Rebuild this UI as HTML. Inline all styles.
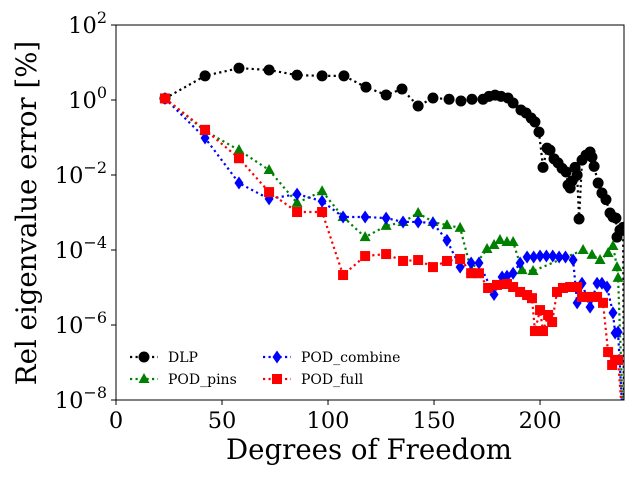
<!DOCTYPE html>
<html><head><meta charset="utf-8"><style>
html,body{margin:0;padding:0;background:#fff}
svg{display:block;font-family:"DejaVu Serif","Liberation Serif",serif}
</style></head><body>
<svg id="chart" width="640" height="480" viewBox="0 0 640 480">
<defs><clipPath id="clip"><rect x="116" y="25" width="508" height="375"/></clipPath></defs>
<rect x="0" y="0" width="640" height="480" fill="#fff"/>
<g id="series" clip-path="url(#clip)"></g>
<rect x="116" y="25" width="508" height="375" fill="none" stroke="#000" stroke-width="1"/>
<g id="axes"></g>
<text x="369" y="459" font-size="27.6" text-anchor="middle">Degrees of Freedom</text>
<text transform="translate(36,213) rotate(-90)" font-size="27.6" text-anchor="middle">Rel eigenvalue error [%]</text>
<g id="legend"></g>
</svg>
<script>
const xTicks=[0,50,100,150,200];
const yTickExps=[2,0,-2,-4,-6,-8];
const seriesNames=["DLP","POD_pins","POD_combine","POD_full"];
const dlpX=[23.1,42,58,72.2,85.4,97.2,107.5,117.9,127.4,134.9,142.5,149.5,157.1,162.7,167.9,173.1,175.9,178.8,181.6,184.9,187.3,191,193.4,195.8,197.6,199.5,201.4,203.3,204.7,206.6,208.5,210.4,212.3,213.2,214.2,215.1,216.5,217.5,218.4,219.8,221.7,223.6,224.5,225.5,227.4,229.2,231.1,233,234.4,235.8,236.3,237.7,239.2,239.6];
const dlpY=[1.1,4.4,7.1,6.3,4.6,4.4,4.4,2.2,1.36,1.96,0.69,1.13,1.05,0.94,1.05,1.05,1.25,1.35,1.25,1.13,0.83,0.54,0.45,0.33,0.26,0.14,0.016,0.052,0.046,0.027,0.021,0.015,0.012,0.0054,0.0045,0.0069,0.016,0.01,0.00067,0.025,0.034,0.041,0.03,0.017,0.0061,0.0033,0.0022,0.00097,0.00076,0.00071,0.00022,0.00034,0.0004,1e-9];
const pinsX=[23.1,42,58,72.2,85.4,97.2,107.1,117.5,127.4,135.4,142.5,149.5,156.1,162.3,167.5,175,178.3,181.1,184.4,187.3,191.5,196.7,220.3,224.5,228.3,232.1,234.4,236.3,236.8,239.5];
const pinsY=[1.1,0.15,0.046,0.0136,0.0018,0.0037,0.00076,0.00022,0.00044,0.00056,0.00097,0.00056,0.00046,0.00039,2.9e-5,0.000106,0.000136,0.000185,0.000163,0.000163,2.9e-5,2.75e-5,0.0001,7.4e-5,5.4e-5,8.3e-5,0.000128,3.5e-5,1.8e-5,1e-9];
const combX=[23.1,42,58,72.2,85.4,97.2,107.1,117.5,127.4,135.4,142.5,149.5,156.1,162.3,167.5,171.2,178.3,182.1,184.4,187.3,190.6,193.9,197,200,203,206,209,212,215.6,217.5,219.8,223.6,226.9,229.2,231.6,234.4,235.4,236.8,239.5];
const combY=[1.1,0.097,0.0061,0.0023,0.0031,0.002,0.00076,0.00076,0.00071,0.00056,0.00056,0.00052,0.00018,3.5e-5,4.5e-5,4.5e-5,6.5e-6,1.9e-5,2.0e-5,2.4e-5,4.5e-5,6.5e-5,6.5e-5,6.9e-5,6.9e-5,6.9e-5,6.5e-5,6.5e-5,5.4e-5,3.9e-6,1.3e-5,3.0e-6,1.3e-5,1.3e-5,1.03e-5,2.1e-6,6.1e-7,6.5e-7,1e-9];
const fullX=[23.1,42,58,72.2,85.4,97.2,107.1,117.5,127.4,135.4,142.5,149.5,156.1,162.3,167.5,171.2,175.5,179.7,184.4,187.3,190.6,193.9,196.2,197.6,200,201.4,203.8,205.7,208,210.8,214.2,217.5,219.8,222.6,226.9,229.7,232.1,234,235.4,236.8,239.5];
const fullY=[1.1,0.16,0.028,0.0035,0.00103,0.00103,2.15e-5,6.9e-5,7.8e-5,5.1e-5,5.4e-5,3.5e-5,5.1e-5,5.75e-5,2.4e-5,2.4e-5,9.7e-6,1.17e-5,1.24e-5,1.03e-5,7.6e-6,6.3e-6,5.2e-6,6.9e-7,2.5e-6,6.9e-7,1.85e-6,1.2e-6,7.6e-6,9.7e-6,1.03e-5,1.03e-5,5.6e-6,5.6e-6,5.6e-6,3.9e-6,1.9e-7,8.6e-8,1.17e-7,1.17e-7,1e-9];

const NS="http://www.w3.org/2000/svg";
const X0=116,X1=624,Y0=25,Y1=400,XMAX=239.6;
function sx(v){return X0+(v/XMAX)*(X1-X0);}
function sy(v){const e=Math.log10(v);return Y0+(2-e)/10*(Y1-Y0);}
function mk(tag,attrs,parent){const el=document.createElementNS(NS,tag);for(const k in attrs)el.setAttribute(k,attrs[k]);parent.appendChild(el);return el;}
const axes=document.getElementById('axes');
xTicks.forEach(t=>{
  const x=sx(t);
  const tk=mk('line',{x1:x,x2:x,y1:400,y2:405,stroke:'#000','stroke-width':1},axes);
  
  
  const tx=mk('text',{x:x,y:428,'font-size':22.5,'text-anchor':'middle'},axes);
  tx.textContent=t;
  
  
});
yTickExps.forEach(e=>{
  const y=sy(Math.pow(10,e));
  const tk=mk('line',{x1:111,x2:116,y1:y,y2:y,stroke:'#000','stroke-width':1},axes);
  
  
  const tx=mk('text',{x:107,y:y+8,'font-size':22.5,'text-anchor':'end'},axes);
  
  
  const a=document.createElementNS(NS,'tspan');a.textContent='10';tx.appendChild(a);
  const b=document.createElementNS(NS,'tspan');b.textContent=String(e).replace('-','\u2212');b.setAttribute('dy','-10');b.setAttribute('font-size','16');tx.appendChild(b);
});
const colors=['#000','#008000','#0000ff','#ff0000'];
const shapes=['circle','triangle','diamond','square'];
function marker(shape,x,y,c,parent){
  let el;
  if(shape==='circle')el=mk('circle',{cx:x,cy:y,r:5.5,fill:c},parent);
  else if(shape==='square')el=mk('rect',{x:x-5,y:y-5,width:10,height:10,fill:c},parent);
  else if(shape==='triangle')el=mk('polygon',{points:`${x},${y-6} ${x+5.5},${y+4} ${x-5.5},${y+4}`,fill:c},parent);
  else el=mk('polygon',{points:`${x},${y-6.5} ${x+4.5},${y} ${x},${y+6.5} ${x-4.5},${y}`,fill:c},parent);
  return el;
}
const g=document.getElementById('series');
const allX=[dlpX,pinsX,combX,fullX],allY=[dlpY,pinsY,combY,fullY];
const keys=['dlp','pod-pins','pod-combine','pod-full'];
allX.forEach((xs,i)=>{
  const ys=allY[i];
  const pts=xs.map((x,j)=>sx(x)+','+sy(ys[j])).join(' ');
  const ln=mk('polyline',{points:pts,fill:'none',stroke:colors[i],'stroke-width':2.2,'stroke-dasharray':'2.2 3.3'},g);
  
  
  xs.forEach((x,j)=>{
    const m=marker(shapes[i],sx(x),sy(ys[j]),colors[i],g);
    
    
  });
});
const lg=document.getElementById('legend');
const lpos=[[130,357],[130,379],[263,357],[263,379]];
seriesNames.forEach((n,i)=>{
  const [x,y]=lpos[i];
  const l=mk('line',{x1:x,x2:x+28,y1:y,y2:y,stroke:colors[i],'stroke-width':2.2,'stroke-dasharray':'2.2 3.3'},lg);
  
  
  const m=marker(shapes[i],x+14,y,colors[i],lg);
  
  
  const t=mk('text',{x:x+38,y:y+5,'font-size':14},lg);
  t.textContent=n;
  
  
});
</script>
</body></html>
